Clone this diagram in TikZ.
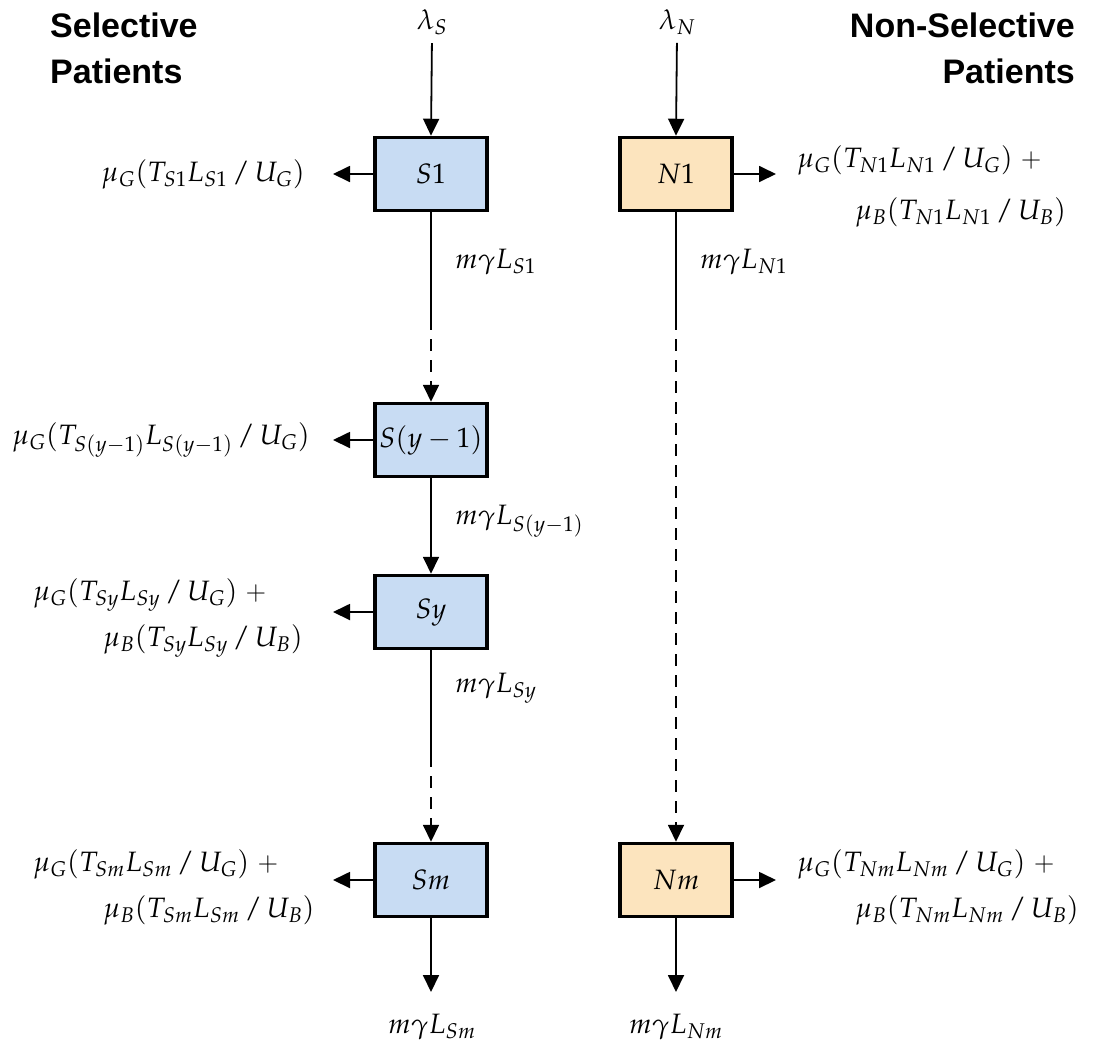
\documentclass[tikz,border=0pt]{standalone}
\usepackage{mathpazo}
\usepackage[no-math]{fontspec}
\newfontfamily\hsans{Liberation Sans}
\usetikzlibrary{arrows.meta}
\definecolor{sblue}{RGB}{200,220,243}
\definecolor{norange}{RGB}{252,228,190}
\tikzset{
 box/.style={draw=black, line width=3.5pt, minimum width=112pt, minimum height=73pt, inner sep=0pt, font=\fontsize{28}{32}\selectfont},
 sbox/.style={box, fill=sblue},
 nbox/.style={box, fill=norange},
 arr/.style={line width=1.8pt, -{Triangle[length=17pt,width=16pt]}},
 ln/.style={line width=1.8pt},
 dsh/.style={arr, dash pattern=on 12pt off 9pt},
 lbl/.style={inner sep=0pt, font=\fontsize{28}{32}\selectfont},
 head/.style={inner sep=0pt, font=\hsans\bfseries\fontsize{34}{40}\selectfont},
}
\begin{document}
\begin{tikzpicture}[x=1pt,y=-1pt]
\useasboundingbox (0,0) rectangle (1099,1045);
% headings
\node[head, anchor=base west] (h1) at (50,37) {Selective};
\node[head, anchor=base west] (h2) at (50,83) {Patients};
\node[head, anchor=base east] (h3) at (1075,37) {Non-Selective};
\node[head, anchor=base east] (h4) at (1075,83) {Patients};
% boxes
\node[sbox] (S1) at (431,174) {$S1$};
\node[nbox] (N1) at (676,174) {$N1$};
\node[sbox] (Sy1) at (431,440) {$S(y-1)$};
\node[sbox] (Sy) at (431,612) {$Sy$};
\node[sbox] (Sm) at (431,880) {$Sm$};
\node[nbox] (Nm) at (676,880) {$Nm$};
% inflows
\node[lbl] (lamS) at (432,22) {$\lambda_S$};
\node[lbl] (lamN) at (677,22) {$\lambda_N$};
\draw[arr, shorten <=8pt] (lamS.south) -- (S1.north);
\draw[arr, shorten <=8pt] (lamN.south) -- (N1.north);
% S1 outflow
\node[lbl, anchor=east] (oS1) at (305,174) {$\mu_G(T_{S1}L_{S1}\,/\,U_G)$};
\draw[arr, shorten >=28pt] (S1.west) -- (oS1.east);
% N1 outflow
\node[lbl, anchor=west] (oN1a) at (797,160) {$\mu_G(T_{N1}L_{N1}\,/\,U_G)$ +};
\node[lbl, anchor=west] (oN1b) at (855,212) {$\mu_B(T_{N1}L_{N1}\,/\,U_B)$};
\coordinate (eN1) at (776,174);
\draw[arr] (N1.east) -- (eN1);
% S(y-1) outflow
\node[lbl, anchor=east] (oSy1) at (310,440) {$\mu_G(T_{S(y-1)}L_{S(y-1)}\,/\,U_G)$};
\draw[arr, shorten >=23pt] (Sy1.west) -- (oSy1.east);
% Sy outflow
\node[lbl, anchor=west] (oSya) at (33,595) {$\mu_G(T_{Sy}L_{Sy}\,/\,U_G)$ +};
\node[lbl, anchor=west] (oSyb) at (103,641) {$\mu_B(T_{Sy}L_{Sy}\,/\,U_B)$};
\coordinate (eSy) at (333,612);
\draw[arr] (Sy.west) -- (eSy);
% Sm outflow
\node[lbl, anchor=west] (oSma) at (33,864) {$\mu_G(T_{Sm}L_{Sm}\,/\,U_G)$ +};
\node[lbl, anchor=west] (oSmb) at (103,910) {$\mu_B(T_{Sm}L_{Sm}\,/\,U_B)$};
\coordinate (eSm) at (333,880);
\draw[arr] (Sm.west) -- (eSm);
% Nm outflow
\node[lbl, anchor=west] (oNma) at (797,864) {$\mu_G(T_{Nm}L_{Nm}\,/\,U_G)$ +};
\node[lbl, anchor=west] (oNmb) at (855,910) {$\mu_B(T_{Nm}L_{Nm}\,/\,U_B)$};
\coordinate (eNm) at (776,880);
\draw[arr] (Nm.east) -- (eNm);
% transitions
\coordinate (bS1) at (431,318);
\draw[ln] (S1.south) -- (bS1);
\draw[dsh] (bS1) -- (Sy1.north);
\node[lbl, anchor=west] (tS1) at (455,262) {$m\gamma L_{S1}$};
\draw[arr] (Sy1.south) -- (Sy.north);
\node[lbl, anchor=west] (tSy1) at (455,521) {$m\gamma L_{S(y-1)}$};
\coordinate (bSy) at (431,755);
\draw[ln] (Sy.south) -- (bSy);
\draw[dsh] (bSy) -- (Sm.north);
\node[lbl, anchor=west] (tSy) at (455,688) {$m\gamma L_{Sy}$};
\coordinate (bN1) at (676,318);
\draw[ln] (N1.south) -- (bN1);
\draw[dsh] (bN1) -- (Nm.north);
\node[lbl, anchor=west] (tN1) at (700,262) {$m\gamma L_{N1}$};
% final outflows
\coordinate (eSmd) at (431,992);
\coordinate (eNmd) at (676,992);
\draw[arr] (Sm.south) -- (eSmd);
\draw[arr] (Nm.south) -- (eNmd);
\node[lbl] (tSm) at (432,1027) {$m\gamma L_{Sm}$};
\node[lbl] (tNm) at (676,1027) {$m\gamma L_{Nm}$};
\end{tikzpicture}
\end{document}
